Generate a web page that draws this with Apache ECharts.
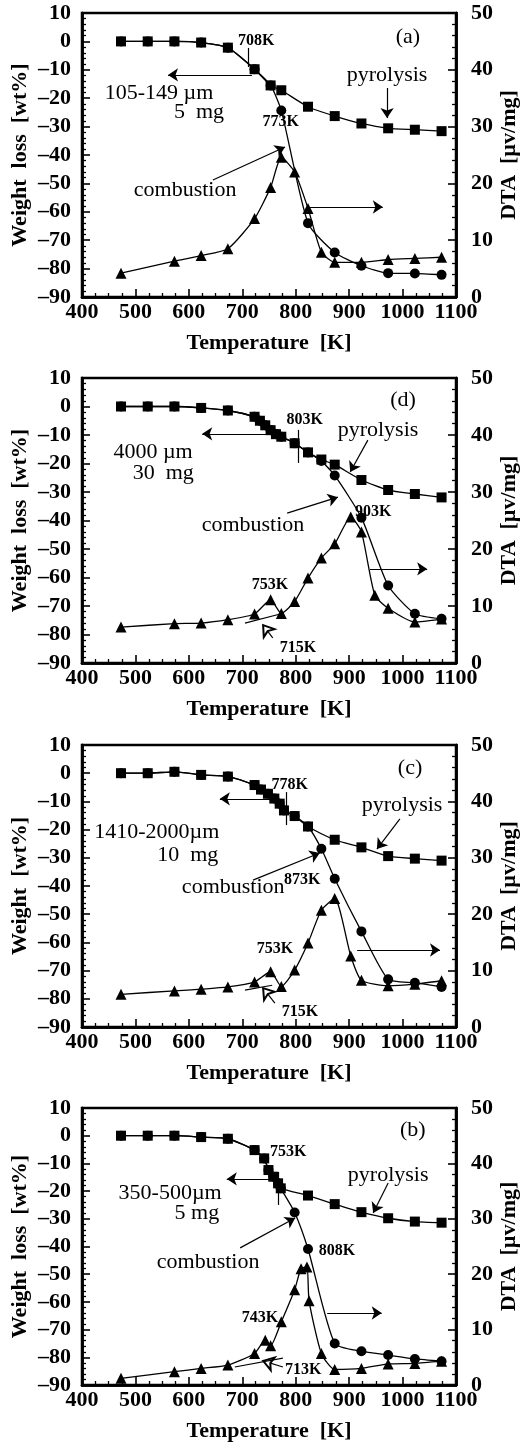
<!DOCTYPE html>
<html>
<head>
<meta charset="utf-8">
<script src="https://cdn.jsdelivr.net/npm/echarts@6.0.0/dist/echarts.min.js"></script>
<style>
  html, body { margin: 0; padding: 0; background: #fff; }
  #chart { width: 525px; height: 1451px; }
</style>
</head>
<body>
<div id="chart"></div>
<script>
// ---- data: T [K], weight loss [wt%], DTA [uV/mg] ----
// (a) 105-149 um, 5 mg
const aPyroT = [473, 523, 573, 623, 673, 723, 753, 773, 823, 873, 923, 973, 1023, 1073];
const aPyroW = [0, 0, 0, -0.4, -2.2, -9.8, -15.5, -17.2, -23, -26.3, -28.9, -30.6, -31.1, -31.6];
const aCombT = [473, 523, 573, 623, 673, 723, 753, 773, 823, 873, 923, 973, 1023, 1073];
const aCombW = [0, 0, 0, -0.4, -2.2, -9.8, -15.5, -24.3, -64, -74.3, -79, -81.6, -81.7, -82.2];
const aDtaT = [473, 573, 623, 673, 723, 753, 773, 798, 823, 848, 873, 923, 973, 1023, 1073];
const aDtaV = [4.2, 6.3, 7.3, 8.5, 13.8, 19.3, 24.6, 22, 15.6, 7.9, 6.1, 6.1, 6.6, 6.8, 7];

// (d) 4000 um, 30 mg
const dPyroT = [473, 523, 573, 623, 673, 723, 733, 743, 753, 763, 773, 798, 823, 848, 873, 923, 973, 1023, 1073];
const dPyroW = [0, 0, 0, -0.5, -1.4, -3.6, -5, -6.6, -8.3, -9.7, -10.6, -12.9, -16.1, -18.6, -20.4, -25.8, -29.3, -30.7, -31.9];
const dCombT = [473, 523, 573, 623, 673, 723, 733, 743, 753, 763, 773, 798, 823, 848, 873, 923, 973, 1023, 1073];
const dCombW = [0, 0, 0, -0.5, -1.4, -3.6, -5, -6.6, -8.3, -9.7, -10.6, -12.9, -16.1, -19.1, -24.2, -39, -62.8, -72.7, -74.5];
const dDtaT = [473, 573, 623, 673, 723, 753, 773, 798, 823, 848, 873, 903, 923, 948, 973, 1023, 1073];
const dDtaV = [6.3, 6.9, 7, 7.6, 8.6, 11.1, 8.7, 10.8, 14.9, 18.4, 20.9, 25.6, 23, 11.9, 9.6, 7.2, 7.7];

// (c) 1410-2000 um, 10 mg
const cPyroT = [473, 523, 573, 623, 673, 723, 735, 748, 760, 770, 778, 798, 823, 873, 923, 973, 1023, 1073];
const cPyroW = [0, 0, 0.5, -0.6, -1.2, -4.2, -5.8, -7.3, -9, -10.8, -13.2, -15.2, -18.9, -23.6, -26.3, -29.4, -30.3, -31];
const cCombT = [473, 523, 573, 623, 673, 723, 735, 748, 760, 770, 778, 798, 823, 848, 873, 923, 973, 1023, 1073];
const cCombW = [0, 0, 0.5, -0.6, -1.2, -4.2, -5.8, -7.3, -9, -10.8, -13.2, -15.2, -18.9, -26.8, -37.4, -56.1, -73.1, -74.3, -75.8];
const cDtaT = [473, 573, 623, 673, 723, 753, 773, 798, 823, 848, 873, 903, 923, 973, 1023, 1073];
const cDtaV = [5.8, 6.4, 6.7, 7.1, 8, 9.8, 7.2, 10.1, 14.9, 20.7, 22.8, 12.6, 8.3, 7.3, 7.6, 8.2];

// (b) 350-500 um, 5 mg
const bPyroT = [473, 523, 573, 623, 673, 723, 741, 749, 758, 767, 772, 823, 873, 923, 973, 1023, 1073];
const bPyroW = [0, 0, 0, -0.5, -1.1, -5.2, -8.2, -12.4, -14.8, -17.2, -19, -21.6, -24.7, -27.6, -29.8, -31, -31.4];
const bCombT = [473, 523, 573, 623, 673, 723, 741, 749, 758, 767, 772, 798, 823, 873, 923, 973, 1023, 1073];
const bCombW = [0, 0, 0, -0.5, -1.1, -5.2, -8.2, -12.4, -14.8, -17.2, -19, -27.7, -40.9, -75, -77.8, -79.2, -80.6, -81.4];
const bDtaT = [473, 573, 623, 673, 723, 743, 753, 773, 798, 810, 821, 825, 848, 873, 923, 973, 1023, 1073];
const bDtaV = [1.2, 2.4, 3, 3.6, 5.7, 8.1, 7.1, 11.4, 17.2, 21, 21.3, 15.2, 5.7, 2.8, 3, 3.8, 3.9, 4.3];

// axis ticks
const tempTicks = { min: 400, max: 1100, step: 100 };
const lossTicks = { min: -90, max: 10, step: 10 };
const dtaTicks = { min: 0, max: 50, step: 10 };

const SERIF = '"Liberation Serif", "Times New Roman", serif';
const zip = (xs, ys) => xs.map((x, i) => [x, ys[i]]);

// annotations in data coords (temperature, wt%): arrows [x1,y1,x2,y2,kind], texts [x,y,text,size,bold]
const panels = [
  {
    top: 13, height: 284, yName: 'Weight  loss  [wt%]',
    pyro: zip(aPyroT, aPyroW), comb: zip(aCombT, aCombW), dta: zip(aDtaT, aDtaV),
    arrows: [
      [711, -2.3, 711, -9, 'none'],
      [718, -11.8, 561, -11.8, 'arrow'],
      [971, -16.4, 971, -27, 'arrow'],
      [645, -48.8, 780, -37.2, 'arrow'],
      [821, -58.3, 963, -58.3, 'arrow']
    ],
    texts: [
      [1010, 1.5, '(a)', 22, false],
      [726, 0.1, '708K', 16, true],
      [544, -18.2, '105-149 µm', 22, false],
      [619, -24.9, '5  mg', 22, false],
      [971, -11.8, 'pyrolysis', 22, false],
      [772, -28.4, '773K', 16, true],
      [593, -52.3, 'combustion', 22, false]
    ]
  },
  {
    top: 378, height: 285, yName: 'Weight  loss  [wt%]',
    pyro: zip(dPyroT, dPyroW), comb: zip(dCombT, dCombW), dta: zip(dDtaT, dDtaV),
    arrows: [
      [804, -8.2, 804, -19.8, 'none'],
      [757, -9.6, 625, -9.6, 'arrow'],
      [935, -11.8, 902, -23, 'arrow'],
      [784, -37.4, 879, -31.8, 'arrow'],
      [939, -57, 1046, -57, 'arrow'],
      [757, -81.2, 739, -76.7, 'hollow'],
      [705, -76, 771, -72.8, 'none']
    ],
    texts: [
      [1001, 2.3, '(d)', 22, false],
      [817, -4.7, '803K', 16, true],
      [954, -8.2, 'pyrolysis', 22, false],
      [533, -16, '4000 µm', 22, false],
      [552, -23.3, '30  mg', 22, false],
      [720, -41.6, 'combustion', 22, false],
      [945, -37, '903K', 16, true],
      [752, -62.6, '753K', 16, true],
      [804, -84.7, '715K', 16, true]
    ]
  },
  {
    top: 745, height: 282, yName: 'Weight  [wt%]',
    pyro: zip(cPyroT, cPyroW), comb: zip(cCombT, cCombW), dta: zip(cDtaT, cDtaV),
    arrows: [
      [783, -6.7, 783, -18.4, 'none'],
      [761, -9.1, 658, -9.1, 'arrow'],
      [995, -16.2, 952, -26.9, 'arrow'],
      [720, -37.9, 845, -28.3, 'arrow'],
      [915, -62.7, 1070, -62.7, 'arrow'],
      [761, -81.5, 739, -76.2, 'hollow'],
      [705, -76.9, 756, -75.2, 'none']
    ],
    texts: [
      [1014, 1.8, '(c)', 22, false],
      [789, -4.2, '778K', 16, true],
      [999, -11.3, 'pyrolysis', 22, false],
      [540, -20.9, '1410-2000µm', 22, false],
      [598, -29, '10  mg', 22, false],
      [683, -40.4, 'combustion', 22, false],
      [812, -37.9, '873K', 16, true],
      [761, -62.3, '753K', 16, true],
      [808, -84.7, '715K', 16, true]
    ]
  },
  {
    top: 1108, height: 277, yName: 'Weight  loss  [wt%]',
    pyro: zip(bPyroT, bPyroW), comb: zip(bCombT, bCombW), dta: zip(bDtaT, bDtaV),
    arrows: [
      [767, -13.1, 767, -25, 'none'],
      [757, -15.6, 671, -15.6, 'arrow'],
      [973, -17.1, 945, -27.9, 'arrow'],
      [696, -40.5, 799, -29.7, 'arrow'],
      [859, -64, 961, -64, 'arrow'],
      [776, -83.5, 739, -81.3, 'hollow'],
      [686, -83.5, 776, -80.3, 'none']
    ],
    texts: [
      [1019, 2.1, '(b)', 22, false],
      [786, -5.9, '753K', 16, true],
      [565, -20.7, '350-500µm', 22, false],
      [615, -27.9, '5 mg', 22, false],
      [973, -14.2, 'pyrolysis', 22, false],
      [636, -45.6, 'combustion', 22, false],
      [877, -41.6, '808K', 16, true],
      [733, -65.8, '743K', 16, true],
      [814, -84.6, '713K', 16, true]
    ]
  }
];

const black = '#000';
const GRID_LEFT = 82, GRID_W = 374;
const N = panels.length;
const labelFont = () => ({ fontFamily: SERIF, fontSize: 22, fontWeight: 'bold', color: black });
const minus = v => String(v).replace('-', '\u2013');
const tickOpt = () => ({ show: true, inside: true, length: 8, lineStyle: { color: black, width: 1.6 } });
const minorOpt = n => ({ show: true, splitNumber: n, length: 4, lineStyle: { color: black, width: 1.3 } });
const frameOpt = () => ({ show: true, onZero: false, lineStyle: { color: black, width: 2.5 } });
const titleStyle = txt => ({ text: txt, fill: black, fontFamily: SERIF, fontSize: 22, fontWeight: 'bold', align: 'center', verticalAlign: 'middle' });

const grids = [], xAxes = [], yAxes = [], series = [], titles = [];
const tickGrids = [], tickX = [], tickY = [];

panels.forEach((p, i) => {
  const rect = { left: GRID_LEFT, width: GRID_W, top: p.top, height: p.height };
  grids.push(Object.assign({ show: true, borderColor: black, borderWidth: 2.5 }, rect));
  tickGrids.push(Object.assign({}, rect));

  // labelled axes (data scales)
  xAxes.push({
    type: 'value', gridIndex: i, min: tempTicks.min, max: tempTicks.max, interval: tempTicks.step,
    axisLine: frameOpt(), axisTick: { show: false }, splitLine: { show: false },
    axisLabel: Object.assign({ margin: 4, formatter: v => String(v) }, labelFont())
  });
  yAxes.push({
    type: 'value', gridIndex: i, position: 'left', min: lossTicks.min, max: lossTicks.max, interval: lossTicks.step,
    axisLine: frameOpt(), axisTick: { show: false }, splitLine: { show: false },
    axisLabel: Object.assign({ margin: 11, formatter: minus }, labelFont())
  });
  yAxes.push({
    type: 'value', gridIndex: i, position: 'right', min: dtaTicks.min, max: dtaTicks.max, interval: dtaTicks.step,
    axisLine: frameOpt(), axisTick: { show: false }, splitLine: { show: false },
    axisLabel: Object.assign({ margin: 15 }, labelFont())
  });

  // same scales on an overlaid grid, carrying only the inward ticks
  const g = N + i;
  tickX.push({
    type: 'value', gridIndex: g, min: tempTicks.min, max: tempTicks.max, interval: tempTicks.step,
    axisLine: frameOpt(), axisTick: tickOpt(), minorTick: minorOpt(4),
    splitLine: { show: false }, axisLabel: { show: false }
  });
  tickY.push({
    type: 'value', gridIndex: g, position: 'left', min: lossTicks.min, max: lossTicks.max, interval: lossTicks.step,
    axisLine: frameOpt(), axisTick: tickOpt(), minorTick: minorOpt(5),
    splitLine: { show: false }, axisLabel: { show: false }
  });
  tickY.push({
    type: 'value', gridIndex: g, position: 'right', min: dtaTicks.min, max: dtaTicks.max, interval: dtaTicks.step,
    axisLine: frameOpt(), axisTick: tickOpt(), minorTick: minorOpt(5),
    splitLine: { show: false }, axisLabel: { show: false }
  });

  // axis titles
  const midY = p.top + p.height / 2;
  titles.push({ type: 'text', x: GRID_LEFT + GRID_W / 2, y: p.top + p.height + 46, silent: true, style: titleStyle('Temperature  [K]') });
  titles.push({ type: 'text', x: 20, y: midY, rotation: Math.PI / 2, silent: true, style: titleStyle(p.yName) });
  titles.push({ type: 'text', x: 509, y: midY, rotation: Math.PI / 2, silent: true, style: titleStyle('DTA  [µv/mg]') });

  const base = () => ({
    type: 'line', xAxisIndex: i, smooth: 0.2, silent: true,
    lineStyle: { color: black, width: 1.3 }, itemStyle: { color: black },
    emphasis: { disabled: true }
  });

  // DTA curve, right axis
  series.push(Object.assign(base(), {
    name: 'DTA ' + i, yAxisIndex: 2 * i + 1, data: p.dta, symbol: 'triangle', symbolSize: 11
  }));
  // combustion weight loss
  series.push(Object.assign(base(), {
    name: 'combustion ' + i, yAxisIndex: 2 * i, data: p.comb, symbol: 'circle', symbolSize: 10
  }));
  // pyrolysis weight loss, carries the annotations
  series.push(Object.assign(base(), {
    name: 'pyrolysis ' + i, yAxisIndex: 2 * i, data: p.pyro, symbol: 'rect', symbolSize: 10,
    markLine: {
      silent: true, symbolSize: 10,
      label: { show: false }, emphasis: { disabled: true },
      lineStyle: { color: black, width: 1.2, type: 'solid' },
      data: p.arrows.map(([x1, y1, x2, y2, kind]) => [
        { coord: [x1, y1], symbol: 'none' },
        { coord: [x2, y2], symbol: kind === 'none' ? 'none' : (kind === 'hollow' ? 'emptyArrow' : 'arrow') }
      ])
    },
    markPoint: {
      silent: true, symbol: 'circle', symbolSize: 0,
      data: p.texts.map(([x, y, txt, size, bold]) => ({
        coord: [x, y],
        label: {
          show: true, position: 'inside', formatter: txt, color: black,
          fontFamily: SERIF, fontSize: size, fontWeight: bold ? 'bold' : 'normal'
        }
      }))
    }
  }));
});

const chart = echarts.init(document.getElementById('chart'));
chart.setOption({
  backgroundColor: '#fff',
  animation: false,
  grid: grids.concat(tickGrids),
  xAxis: xAxes.concat(tickX),
  yAxis: yAxes.concat(tickY),
  series: series,
  graphic: titles
});
</script>
</body>
</html>
